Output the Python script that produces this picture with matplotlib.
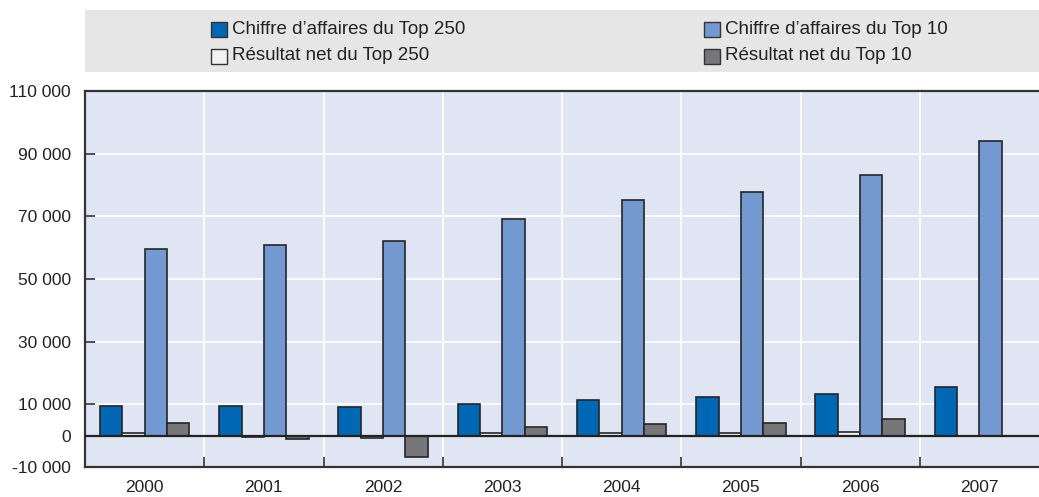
import numpy as np
import matplotlib.pyplot as plt
from matplotlib.patches import Rectangle

# -----------------------------
# Data
# -----------------------------
years = ["2000", "2001", "2002", "2003", "2004", "2005", "2006", "2007"]
ca_top250 = [9600, 9600, 9300, 10200, 11500, 12200, 13400, 15500]
net_top250 = [1000, -500, -800, 700, 1000, 1000, 1200, 0]
ca_top10 = [59700, 61000, 62100, 69100, 75200, 77800, 83200, 94000]
net_top10 = [4200, -1200, -6700, 2900, 3800, 4200, 5400, 0]

labels = ["Chiffre d\u2019affaires du Top 250", "R\u00e9sultat net du Top 250",
          "Chiffre d\u2019affaires du Top 10", "R\u00e9sultat net du Top 10"]
colors = ["#0067b4", "#f2f2f2", "#7399d0", "#777779"]
series = [ca_top250, net_top250, ca_top10, net_top10]

plt.rcParams["font.family"] = ["Liberation Sans", "DejaVu Sans"]

fig = plt.figure(figsize=(10.39, 4.97), dpi=100)
ax = fig.add_axes([85 / 1039, 30 / 497, 954 / 1039, 376 / 497])
ax.set_facecolor("#dfe5f3")

x = np.arange(len(years))
w = 0.1875
for i, (vals, c) in enumerate(zip(series, colors)):
    ax.bar(x + (i - 1.5) * w, vals, width=w, color=c, edgecolor="#262626",
           linewidth=1.2, zorder=3)

ax.set_xlim(-0.5, len(years) - 0.5)
ax.set_ylim(-10000, 110000)

# grid
yt = [-10000, 0, 10000, 30000, 50000, 70000, 90000, 110000]
ax.set_yticks(yt)
ax.set_yticklabels([f"{v:,}".replace(",", " ") for v in yt], fontsize=12.5, color="#222222")
for v in [10000, 30000, 50000, 70000, 90000]:
    ax.axhline(v, color="white", linewidth=1.2, zorder=1)
for b in np.arange(0.5, len(years) - 0.5):
    ax.axvline(b, color="white", linewidth=1.2, zorder=1)
ax.axhline(0, color="#222222", linewidth=1.6, zorder=4)

ax.set_xticks(x)
ax.set_xticklabels(years, fontsize=12.5, color="#222222")
ax.set_xticks(np.arange(0.5, len(years) - 0.5), minor=True)
ax.tick_params(axis="x", which="major", length=0, pad=9)
ax.tick_params(axis="x", which="minor", direction="in", length=7, width=1.2, color="#333333")
ax.tick_params(axis="y", direction="in", length=7, width=1.2, color="#333333", pad=10)

for s in ["left", "bottom", "top"]:
    ax.spines[s].set_color("#333333")
    ax.spines[s].set_linewidth(1.6)
ax.spines["right"].set_visible(False)

# -----------------------------
# Legend box
# -----------------------------
fig.add_artist(Rectangle((85 / 1039, 425 / 497), 954 / 1039, 62 / 497,
                         transform=fig.transFigure, facecolor="#e6e6e6",
                         edgecolor="none"))
pos = [(211, 29), (211, 56), (704, 29), (704, 56)]
for (px, py), lab, c in zip(pos, labels, colors):
    fig.add_artist(Rectangle((px / 1039, (497 - py - 7.5) / 497), 16 / 1039, 15 / 497,
                             transform=fig.transFigure, facecolor=c,
                             edgecolor="#333333", linewidth=1.0))
    fig.text((px + 21) / 1039, (497 - py) / 497, lab, fontsize=13.5, va="center",
             ha="left", color="#222222")

fig.savefig("out.png", dpi=100)
